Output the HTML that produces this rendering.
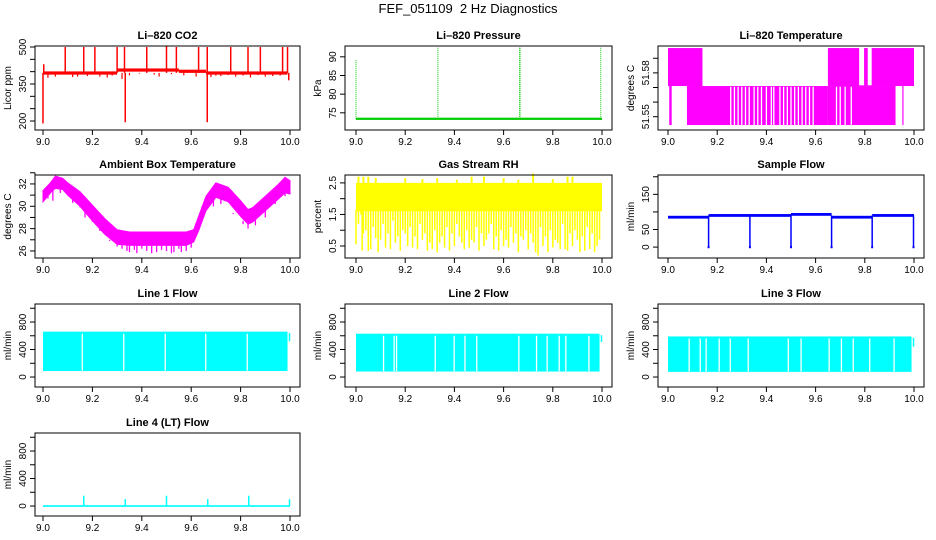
<!DOCTYPE html>
<html><head><meta charset="utf-8"><title>FEF_051109 2 Hz Diagnostics</title>
<style>
html,body{margin:0;padding:0;background:#fff;}
svg{display:block;font-family:"Liberation Sans",sans-serif;}
</style></head>
<body>
<svg id="chart" width="936" height="540" viewBox="0 0 936 540" xmlns="http://www.w3.org/2000/svg">
<rect x="0" y="0" width="936" height="540" fill="#fff"/>
<text x="468" y="13" text-anchor="middle" font-size="13">FEF_051109&#160; 2 Hz Diagnostics</text>
</svg>
<script>
// ---------- data ----------
const xTicks=[9.0,9.2,9.4,9.6,9.8,10.0];
const xTickLabels=["9.0","9.2","9.4","9.6","9.8","10.0"];

// CO2
const co2SegStart=[9.0,9.3,9.55,9.66];
const co2SegEnd=[9.3,9.55,9.66,9.99];
const co2SegLevel=[395,407,402,395];
const co2UpX=[9.09,9.165,9.21,9.3,9.33,9.42,9.5,9.54,9.63,9.665,9.76,9.83,9.88,9.97,9.99];
const co2UpV=[500,500,500,500,500,500,502,500,500,500,500,500,500,500,500];
const co2DownX=[9.0,9.003,9.333,9.665,9.995];
const co2DownV=[190,430,195,195,365];
const co2SmallX=[9.02,9.05,9.12,9.14,9.18,9.23,9.26,9.28,9.32,9.35,9.39,9.45,9.47,9.52,9.57,9.62,9.68,9.7,9.72,9.75,9.78,9.81,9.84,9.87,9.9,9.93,9.96];
const co2SmallV=[375,380,378,380,382,380,376,384,370,385,392,388,380,390,385,380,378,384,382,386,380,384,376,386,380,382,384];

// Pressure
const presBase=73.4;
const presSpikeX=[9.0,9.333,9.665,9.667,9.995];
const presSpikeV=[89.2,92.5,92.7,92.5,92.6];

// Li-820 temperature (quantized bands)
const tBandStart=[9.0,9.005,9.077,9.65,9.65];
const tBandEnd=[9.14,9.015,9.65,10.0,9.925];
const tBandLo=[51.571,51.5443,51.5443,51.571,51.5443];
const tBandHi=[51.597,51.571,51.571,51.597,51.571];
const tGapX=[9.255,9.27,9.285,9.3,9.315,9.33,9.35,9.365,9.38,9.4,9.42,9.43,9.455,9.47,9.485,9.5,9.515,9.53,9.545,9.56,9.575,9.59,9.685,9.7,9.72,9.745];
const tHiGapStart=[9.777,9.812];
const tHiGapEnd=[9.797,9.828];
const tLoneX=[9.955];

// Ambient box temperature envelope
const ambX=[9.0,9.03,9.05,9.08,9.1,9.15,9.2,9.25,9.3,9.35,9.4,9.5,9.58,9.61,9.63,9.66,9.7,9.75,9.8,9.83,9.85,9.9,9.95,9.98,10.0];
const ambHi=[31.4,32.1,32.7,32.5,32.1,31.3,30.1,28.9,27.9,27.7,27.7,27.7,27.7,27.9,29.1,30.9,32.1,31.7,30.5,29.7,29.9,30.9,31.9,32.6,32.3];
const ambLo=[30.4,31.2,31.6,31.5,31.0,30.0,28.7,27.5,26.6,26.5,26.5,26.5,26.5,26.8,27.8,29.6,30.8,30.4,29.1,28.4,28.6,29.6,30.6,31.2,31.1];
const ambDipX=[9.02,9.04,9.07,9.12,9.15,9.17,9.2,9.23,9.27,9.3,9.32,9.34,9.35,9.37,9.38,9.4,9.42,9.44,9.46,9.48,9.5,9.52,9.53,9.55,9.56,9.58,9.6,9.69,9.72,9.77,9.81,9.83,9.86,9.9,9.94,9.98];
const ambDipV=[30.7,30.5,31.2,30.9,29.9,29.8,28.6,28.0,27.0,26.4,26.2,26.0,25.9,26.1,25.8,26.2,26.0,25.8,25.9,26.1,26.0,25.8,25.9,26.2,25.9,26.0,26.3,30.0,30.2,29.3,28.4,28.0,28.3,29.0,30.2,30.9];

// Gas stream RH
const rhBandLo=1.6, rhBandHi=2.5;
const rhTopX=[9.01,9.03,9.05,9.08,9.2,9.27,9.33,9.41,9.47,9.52,9.6,9.66,9.72,9.8,9.86,9.88];
const rhTopV=[2.7,2.7,2.7,2.65,2.65,2.62,2.65,2.6,2.7,2.7,2.65,2.6,2.8,2.62,2.7,2.7];
const rhDipX=[9.0,9.01,9.02,9.025,9.03,9.04,9.05,9.06,9.07,9.08,9.09,9.1,9.11,9.12,9.13,9.14,9.15,9.16,9.17,9.18,9.19,9.2,9.21,9.22,9.23,9.24,9.25,9.26,9.27,9.28,9.29,9.3,9.31,9.32,9.33,9.34,9.35,9.36,9.37,9.38,9.39,9.4,9.41,9.42,9.43,9.44,9.45,9.46,9.47,9.48,9.49,9.5,9.51,9.52,9.53,9.54,9.55,9.56,9.57,9.58,9.59,9.6,9.61,9.62,9.63,9.64,9.65,9.66,9.67,9.68,9.69,9.7,9.71,9.72,9.73,9.74,9.75,9.76,9.77,9.78,9.79,9.8,9.81,9.82,9.83,9.84,9.85,9.86,9.87,9.88,9.89,9.9,9.91,9.92,9.93,9.94,9.95,9.96,9.97,9.98,9.99];
const rhDipV=[0.55,1.2,1.5,0.35,0.9,1.0,0.35,0.4,1.1,0.75,0.3,0.7,1.2,0.45,0.9,0.4,1.3,0.6,0.8,0.35,1.0,0.9,0.5,1.1,0.45,0.8,0.4,1.2,0.7,0.9,0.35,0.6,0.4,1.0,0.3,0.6,0.8,0.45,1.1,0.35,0.9,0.5,1.2,0.8,0.6,0.4,1.0,0.45,0.7,0.6,1.1,0.35,0.9,0.5,0.7,0.9,1.2,0.4,0.8,0.35,1.0,0.5,0.7,0.45,1.1,0.6,0.9,0.3,0.8,0.7,1.0,0.4,0.9,0.6,0.3,0.2,1.1,0.5,0.8,0.3,1.0,0.45,0.7,0.6,0.4,1.2,0.4,0.35,0.9,0.5,1.0,0.7,0.3,0.8,0.35,1.1,0.4,0.9,0.3,0.5,0.7];

// Sample flow
const sfStart=[9.0,9.165,9.5,9.665,9.83];
const sfEnd=[9.165,9.5,9.665,9.83,10.0];
const sfLevel=[85,90,93,85,90];
const sfDropX=[9.165,9.333,9.5,9.665,9.83,9.998];

// Line flows
const l1Top=660,l1Bot=87,l1End=9.99,l1Gaps=[9.159,9.327,9.495,9.659,9.827];
const l2Top=630,l2Bot=80,l2End=9.99,l2Gaps=[9.112,9.155,9.165,9.322,9.399,9.443,9.491,9.662,9.734,9.777,9.826,9.853,9.947];
const l3Top=590,l3Bot=75,l3End=9.99,l3Gaps=[9.086,9.131,9.155,9.208,9.253,9.326,9.489,9.541,9.655,9.705,9.753,9.82,9.919];
const l4X=[9.165,9.333,9.5,9.667,9.833,9.998];
const l4V=[150,100,150,100,150,100];

// ---------- layout ----------
const COLS=[{bx0:35,bx1:300,px0:43,px1:290},{bx0:345,bx1:612,px0:356,px1:602},{bx0:658,bx1:924,px0:668,px1:914}];
const ROWS=[[46,130],[175,258],[304,387],[433,516]];
const NS="http://www.w3.org/2000/svg";
const svg=document.getElementById('chart');

function el(tag,attrs,parent){const e=document.createElementNS(NS,tag);for(const k in attrs)e.setAttribute(k,attrs[k]);(parent||svg).appendChild(e);return e;}

function panel(c,r,name,title,ylab,dom,ticks,labels){
  const C=COLS[c],R=ROWS[r];
  const g=el('g',{});
  
  
  const x=v=>C.px0+(v-9)*(C.px1-C.px0);
  const y=v=>R[1]-(v-dom[0])/(dom[1]-dom[0])*(R[1]-R[0]);
  const t=el('text',{x:(C.bx0+C.bx1)/2,y:R[0]-7,'text-anchor':'middle','font-size':11,'font-weight':'bold'},g);
  t.textContent=title;
  
  
  const plot=el('g',{},g);
  
  
  const xa=el('g',{stroke:'#000','stroke-width':1},g);
  
  
  xTicks.forEach((v,i)=>{
    el('line',{x1:x(v),x2:x(v),y1:R[1],y2:R[1]+5},xa);
    const tl=el('text',{x:x(v),y:R[1]+15,'text-anchor':'middle','font-size':10,stroke:'none',fill:'#000'},g);
    tl.textContent=xTickLabels[i];
    
    
  });
  const ya=el('g',{stroke:'#000','stroke-width':1},g);
  
  
  el('line',{x1:C.bx0,x2:C.bx0,y1:y(ticks[0]),y2:y(ticks[ticks.length-1])},ya);
  ticks.forEach((v,i)=>{
    el('line',{x1:C.bx0-5,x2:C.bx0,y1:y(v),y2:y(v)},ya);
    if(labels[i]){
      const tl=el('text',{x:0,y:0,transform:`translate(${C.bx0-9},${y(v)}) rotate(-90)`,'text-anchor':'middle','font-size':10,stroke:'none',fill:'#000'},g);
      tl.textContent=labels[i];
      
      
    }
  });
  const yl=el('text',{x:0,y:0,transform:`translate(${C.bx0-24},${(R[0]+R[1])/2}) rotate(-90)`,'text-anchor':'middle','font-size':10},g);
  yl.textContent=ylab;
  
  
  const box=el('rect',{x:C.bx0,y:R[0],width:C.bx1-C.bx0,height:R[1]-R[0],fill:'none',stroke:'#000','stroke-width':1},g);
  
  
  return {plot,x,y};
}
function vl(p,xv,v1,v2,col,w){return el('line',{x1:p.x(xv),x2:p.x(xv),y1:p.y(v1),y2:p.y(v2),stroke:col,'stroke-width':w||1},p.plot);}
function band(p,x0,x1,v0,v1,col){const a=p.x(x0),b=p.x(x1),ya=p.y(v1),yb=p.y(v0);return el('rect',{x:a,y:ya,width:Math.max(b-a,1),height:Math.max(yb-ya,1),fill:col},p.plot);}

// ---------- CO2 ----------
(function(){
  const p=panel(0,0,'co2','Li\u2013820 CO2','Licor ppm',[163.5,504],[200,250,300,350,400,450,500],['200','','','350','','','500']);
  const col='#ff0000';
  co2SegStart.forEach((s,i)=>band(p,s,co2SegEnd[i],co2SegLevel[i]-7,co2SegLevel[i]+6,col));
  co2UpX.forEach((xv,i)=>vl(p,xv,co2SegLevel[0],co2UpV[i],col,1.5));
  co2DownX.forEach((xv,i)=>vl(p,xv,co2SegLevel[0],co2DownV[i],col,1.5));
  co2SmallX.forEach((xv,i)=>vl(p,xv,co2SegLevel[0],co2SmallV[i],col,1.2));
})();

// ---------- Pressure ----------
(function(){
  const p=panel(1,0,'pressure','Li\u2013820 Pressure','kPa',[70.4,92.9],[75,80,85,90],['75','80','85','90']);
  const col='#00cc00';
  band(p,9.0,10.0,presBase-0.3,presBase+0.3,col);
  presSpikeX.forEach((xv,i)=>{const l=vl(p,xv,presBase,presSpikeV[i],col,1);l.setAttribute('stroke-dasharray','1,1');});
})();

// ---------- Li-820 Temperature ----------
(function(){
  const p=panel(2,0,'li820-temp','Li\u2013820 Temperature','degrees C',[51.5409,51.5984],[51.55,51.56,51.57,51.58,51.59],['51.55','','','51.58','']);
  const col='#ff00ff';
  tBandStart.forEach((s,i)=>band(p,s,tBandEnd[i],tBandLo[i],tBandHi[i],col));
  tGapX.forEach(xv=>vl(p,xv,51.5443,51.5705,'#ffffff',1.3));
  tHiGapStart.forEach((s,i)=>band(p,s,tHiGapEnd[i],51.5715,51.597,'#ffffff'));
  tLoneX.forEach(xv=>vl(p,xv,51.5443,51.571,col,1.2));
})();

// ---------- Ambient ----------
(function(){
  const p=panel(0,1,'ambient-temp','Ambient Box Temperature','degrees C',[25.37,32.8],[26,27,28,29,30,31,32,33],['26','','28','','30','','32','']);
  const col='#ff00ff';
  let d='M'+ambX.map((xv,i)=>p.x(xv)+','+p.y(ambHi[i])).join('L');
  d+='L'+ambX.slice().reverse().map((xv,i)=>p.x(xv)+','+p.y(ambLo[ambX.length-1-i])).join('L')+'Z';
  el('path',{d:d,fill:col,stroke:col,'stroke-width':1},p.plot);
  ambDipX.forEach((xv,i)=>{
    const k=Math.max(0,ambX.findIndex(a=>a>=xv));
    vl(p,xv,ambLo[k]+0.3,ambDipV[i],col,1.3);
  });
})();

// ---------- RH ----------
(function(){
  const p=panel(1,1,'gas-rh','Gas Stream RH','percent',[0.12,2.75],[0.5,1.0,1.5,2.0,2.5],['0.5','','1.5','','2.5']);
  const col='#ffff00';
  band(p,9.0,10.0,rhBandLo,rhBandHi,col);
  rhTopX.forEach((xv,i)=>vl(p,xv,rhBandHi,rhTopV[i],col,2));
  rhDipX.forEach((xv,i)=>vl(p,xv,rhBandLo+0.05,rhDipV[i],col,1.5));
})();

// ---------- Sample flow ----------
(function(){
  const p=panel(2,1,'sample-flow','Sample Flow','ml/min',[-31,205],[0,50,100,150,200],['0','50','','150','']);
  const col='#0000ff';
  sfStart.forEach((s,i)=>band(p,s,sfEnd[i],sfLevel[i]-4,sfLevel[i]+4,col));
  sfDropX.forEach(xv=>{vl(p,xv,90,-3,col,1.5);band(p,xv-0.004,xv+0.004,-3,3,col);});
})();

// ---------- Line flows ----------
function flow(c,r,name,title,top,bot,end,gaps,tailLo){
  const p=panel(c,r,name,title,'ml/min',[-145,1062],[0,200,400,600,800,1000],['0','','400','','800','']);
  const col='#00ffff';
  band(p,9.0,end,bot,top,col);
  gaps.forEach(xv=>vl(p,xv,bot+5,top-30,'#ffffff',1.3));
  vl(p,9.998,tailLo,top-20,col,1.5);
  return p;
}
flow(0,2,'line1-flow','Line 1 Flow',l1Top,l1Bot,l1End,l1Gaps,520);
flow(1,2,'line2-flow','Line 2 Flow',l2Top,l2Bot,l2End,l2Gaps,510);
flow(2,2,'line3-flow','Line 3 Flow',l3Top,l3Bot,l3End,l3Gaps,440);

(function(){
  const p=panel(0,3,'line4-flow','Line 4 (LT) Flow','ml/min',[-145,1062],[0,200,400,600,800,1000],['0','','400','','800','']);
  const col='#00ffff';
  band(p,9.0,10.0,-12,12,col);
  l4X.forEach((xv,i)=>vl(p,xv,0,l4V[i],col,1.5));
})();
</script>
</body></html>
